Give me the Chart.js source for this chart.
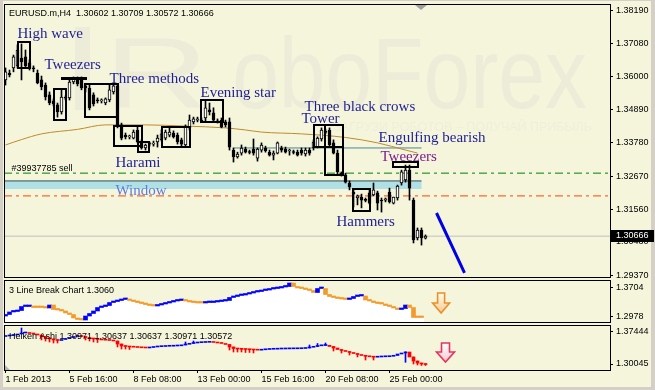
<!DOCTYPE html>
<html>
<head>
<meta charset="utf-8">
<script src="https://cdn.jsdelivr.net/npm/chart.js@4.4.1/dist/chart.umd.min.js"></script>
<style>
html,body{margin:0;padding:0;}
body{width:655px;height:390px;overflow:hidden;background:#d4d0c8;position:relative;}
#bg{position:absolute;left:3px;top:1px;width:648px;height:386px;background:#f5f5dc;}
.cv{position:absolute;left:0;}
</style>
</head>
<body>
<div id="bg"></div>
<canvas id="c1" class="cv" width="655" height="278" style="top:0;width:655px;height:278px"></canvas>
<canvas id="c2" class="cv" width="655" height="46" style="top:278px;width:655px;height:46px"></canvas>
<canvas id="c3" class="cv" width="655" height="66" style="top:324px;width:655px;height:66px"></canvas>
<script>
// ---------------- DATA ----------------
// EURUSD.m H4 candles, bar index 0 = 1 Feb 2013 00:00
const candleOpen = [
1.3588,1.3611,1.3628,1.3635,1.3661,1.3665,1.3645,1.3628,1.3611,1.3588,
1.3571,1.3538,1.3518,1.3505,1.3481,1.3528,1.3528,1.3581,1.3591,1.3588,
1.3568,1.3561,1.3538,1.3521,1.3518,1.3511,1.3521,1.3548,1.3568,1.3438,
1.3404,1.3398,1.3394,1.3421,1.3381,1.3361,1.3374,1.3374,1.3381,1.3388,
1.3394,1.3404,1.3411,1.3404,1.3388,1.3371,1.3428,1.3448,1.3454,1.3454,
1.3461,1.3488,1.3478,1.3451,1.3454,1.3448,1.3448,1.3354,1.3331,1.3344,
1.3357,1.3347,1.3357,1.3327,1.3354,1.3361,1.3347,1.3337,1.3344,1.3361,
1.3357,1.3351,1.3347,1.3347,1.3354,1.3341,1.3354,1.3361,1.3364,1.3391,
1.3414,1.3421,1.3378,1.3344,1.3277,1.3271,1.3244,1.3214,1.3194,1.3197,
1.3187,1.3211,1.3204,1.3211,1.3187,1.3187,1.3214,1.3177,1.3194,1.3244,
1.3254,1.3287,1.3187,1.3061,1.3087,1.30602];
const candleHigh = [
1.3628,1.3621,1.3671,1.3705,1.3708,1.3688,1.3655,1.3635,1.3621,1.3601,
1.3578,1.3548,1.3525,1.3511,1.3555,1.3535,1.3595,1.3598,1.3598,1.3598,
1.3575,1.3571,1.3545,1.3528,1.3525,1.3528,1.3571,1.3575,1.3575,1.3444,
1.3411,1.3404,1.3421,1.3431,1.3388,1.3374,1.3381,1.3384,1.3404,1.3421,
1.3421,1.3428,1.3418,1.3411,1.3394,1.3438,1.3471,1.3464,1.3464,1.3461,
1.3521,1.3511,1.3495,1.3458,1.3461,1.3454,1.3461,1.3361,1.3347,1.3371,
1.3364,1.3354,1.3391,1.3361,1.3378,1.3367,1.3354,1.3351,1.3381,1.3367,
1.3364,1.3357,1.3354,1.3354,1.3361,1.3361,1.3361,1.3388,1.3398,1.3428,
1.3424,1.3428,1.3388,1.3354,1.3281,1.3277,1.3251,1.3224,1.3204,1.3207,
1.3194,1.3221,1.3244,1.3217,1.3194,1.3194,1.3227,1.3197,1.3237,1.3287,
1.3304,1.3304,1.3194,1.3094,1.3094,1.30709];
const candleLow = [
1.3571,1.3598,1.3615,1.3628,1.3588,1.3628,1.3621,1.3615,1.3575,1.3555,
1.3521,1.3505,1.3501,1.3464,1.3474,1.3521,1.3521,1.3575,1.3568,1.3555,
1.3548,1.3488,1.3501,1.3511,1.3511,1.3505,1.3515,1.3541,1.3428,1.3388,
1.3391,1.3391,1.3391,1.3378,1.3357,1.3354,1.3367,1.3367,1.3364,1.3384,
1.3388,1.3398,1.3394,1.3374,1.3367,1.3364,1.3421,1.3441,1.3448,1.3448,
1.3448,1.3471,1.3448,1.3444,1.3428,1.3431,1.3354,1.3314,1.3327,1.3337,
1.3344,1.3341,1.3337,1.3317,1.3347,1.3347,1.3334,1.3321,1.3341,1.3347,
1.3344,1.3337,1.3341,1.3334,1.3337,1.3334,1.3337,1.3354,1.3361,1.3384,
1.3408,1.3367,1.3341,1.3274,1.3267,1.3244,1.3221,1.3164,1.3171,1.3161,
1.3181,1.3174,1.3201,1.3154,1.3147,1.3181,1.3177,1.3174,1.3187,1.3237,
1.3247,1.3187,1.3044,1.3054,1.3037,1.30572];
const candleClose = [
1.3615,1.3605,1.3665,1.3688,1.3648,1.3635,1.3628,1.3625,1.3578,1.3565,
1.3531,1.3511,1.3508,1.3481,1.3531,1.3527,1.3581,1.3591,1.3575,1.3561,
1.3561,1.3495,1.3508,1.3518,1.3521,1.3525,1.3555,1.3568,1.3438,1.3394,
1.3398,1.3401,1.3414,1.3381,1.3361,1.3371,1.3378,1.3375,1.3394,1.3408,
1.3414,1.3414,1.3398,1.3381,1.3374,1.3434,1.3454,1.3458,1.3458,1.3451,
1.3495,1.3481,1.3454,1.3448,1.3431,1.3438,1.3364,1.3331,1.3341,1.3361,
1.3347,1.3346,1.3344,1.3357,1.3371,1.3351,1.3337,1.3344,1.3378,1.3354,
1.3347,1.3354,1.3346,1.3337,1.3344,1.3354,1.3344,1.3381,1.3394,1.3421,
1.3413,1.3371,1.3344,1.3281,1.3271,1.3247,1.3231,1.3207,1.3201,1.3187,
1.3186,1.3177,1.3221,1.3177,1.3184,1.3191,1.3181,1.3197,1.3234,1.3281,
1.3287,1.3227,1.3054,1.3087,1.3061,1.30666];

// moving average (read at selected bars)
const maBar   = [0, 4, 9, 18, 25, 35, 45, 55, 60, 64, 74, 85, 93, 100, 103];
const maValue = [1.3371,1.3389,1.3408,1.3423,1.3438,1.3438,1.3434,1.3428,1.3421,1.3414,1.3408,1.3396,1.3378,1.3354,1.3344];

// horizontal levels
const levelSell   = 1.3277;   // green dash-dot
const levelStop   = 1.3201;   // orange-red dash-dot
const levelBid    = 1.30666;  // current price
const windowTop   = 1.3251;
const windowBottom= 1.3224;
const windowEnd   = 104;
const crowsLine   = {from: 57, to: 104, price: 1.3361};

// forecast line
const forecastBar   = [107.75, 114.75];
const forecastPrice = [1.3144, 1.2944];

// main axis ticks
const mainTicks = [1.29370,1.30480,1.31560,1.32670,1.33780,1.34890,1.36000,1.37080,1.38190];

// 3 Line Break indicator
const lbStart = 1.2995;
const lineBreak = [
1.3033,1.3096,1.3108,1.3133,1.3233,1.3233,1.3233,1.3208,1.3208,1.3208,
1.3196,1.3271,1.3158,1.3146,1.3121,1.3071,1.3033,1.2945,1.2908,1.2895,
1.2995,1.3058,1.3121,1.3208,1.3233,1.3258,1.3333,1.3358,1.3384,1.3409,
1.3416,1.3384,1.3358,1.3333,1.3308,1.3283,1.3258,1.3246,1.3271,1.3296,
1.3321,1.3346,1.3371,1.3384,1.3384,1.3371,1.3346,1.3333,1.3321,1.3321,
1.3333,1.3333,1.3346,1.3358,1.3371,1.3384,1.3459,1.3484,1.3509,1.3521,
1.3546,1.3571,1.3596,1.3609,1.3634,1.3646,1.3671,1.3684,1.3697,1.3722,
1.3734,1.3822,1.3734,1.3697,1.3684,1.3659,1.3634,1.3584,1.3684,1.3684,
1.3534,1.3484,1.3459,1.3434,1.3421,1.3409,1.3434,1.3484,1.3496,1.3496,
1.3396,1.3371,1.3333,1.3308,1.3296,1.3258,1.3233,1.3196,1.3158,1.3183,
1.3271,1.3208,1.2958,1.2958,1.2958];
const lbTicks = [1.2978, 1.3704];

// Heiken Ashi
const haOpenFirst = 1.3640;
const haClose = [
1.3652,1.3664,1.3675,1.3698,1.3721,1.3721,1.3710,1.3698,1.3675,1.3640,
1.3606,1.3583,1.3560,1.3548,1.3571,1.3594,1.3617,1.3640,1.3652,1.3640,
1.3617,1.3594,1.3583,1.3571,1.3560,1.3555,1.3548,1.3536,1.3467,1.3421,
1.3409,1.3398,1.3393,1.3386,1.3379,1.3375,1.3386,1.3398,1.3405,1.3409,
1.3414,1.3416,1.3421,1.3425,1.3444,1.3460,1.3479,1.3490,1.3497,1.3502,
1.3506,1.3509,1.3502,1.3490,1.3479,1.3456,1.3398,1.3363,1.3351,1.3345,
1.3340,1.3335,1.3328,1.3324,1.3333,1.3340,1.3345,1.3347,1.3351,1.3352,
1.3354,1.3355,1.3356,1.3358,1.3363,1.3375,1.3391,1.3409,1.3425,1.3432,
1.3437,1.3409,1.3375,1.3340,1.3317,1.3294,1.3271,1.3247,1.3224,1.3201,
1.3183,1.3171,1.3162,1.3167,1.3171,1.3173,1.3183,1.3201,1.3236,1.3259,
1.3282,1.3167,1.3074,1.3028,1.3005,1.2993];
// [bar, low, high]
const haWicks = [
[4,1.3721,1.3837],[9,1.3560,1.3675],[10,1.3536,1.3640],[11,1.3513,1.3606],[12,1.3490,1.3583],[13,1.3490,1.3560],
[20,1.3560,1.3640],[21,1.3536,1.3617],[22,1.3513,1.3594],[23,1.3502,1.3583],
[28,1.3398,1.3536],[29,1.3351,1.3467],[30,1.3351,1.3421],[31,1.3340,1.3409],
[45,1.3444,1.3513],[47,1.3479,1.3536],
[56,1.3328,1.3456],[57,1.3282,1.3398],[58,1.3282,1.3363],[59,1.3282,1.3351],[60,1.3271,1.3345],[61,1.3271,1.3340],[62,1.3259,1.3335],
[76,1.3375,1.3444],[78,1.3409,1.3479],[80,1.3432,1.3490],
[82,1.3305,1.3409],[84,1.3259,1.3340],[86,1.3213,1.3294],[88,1.3167,1.3247],[90,1.3097,1.3201],[92,1.3097,1.3171],
[100,1.3044,1.3289],[102,1.3005,1.3167],[103,1.2982,1.3074],[104,1.2970,1.3028],[105,1.2970,1.3005]];
const haTicks = [1.30045, 1.37444];

// time axis
const xTickBar = [0, 16, 32, 48, 64, 80, 96];
const xTickLabels = ['1 Feb 2013','5 Feb 16:00','8 Feb 08:00','13 Feb 00:00','15 Feb 16:00','20 Feb 08:00','25 Feb 00:00'];

// pattern annotations (bar range, price range)
const patternBoxes = [
 {from:3, to:6, hi:1.3715, lo:1.3628},
 {from:12, to:15, hi:1.3558, lo:1.3454},
 {from:13.75, to:20.25, hi:1.3598, lo:1.3588, solid:true},
 {from:19.75, to:28, hi:1.3575, lo:1.3464},
 {from:27, to:34, hi:1.3434, lo:1.3367},
 {from:33, to:35.75, hi:1.3381, lo:1.3347},
 {from:39, to:46, hi:1.3431, lo:1.3364},
 {from:49, to:54.25, hi:1.3521, lo:1.3448},
 {from:77, to:84.25, hi:1.3438, lo:1.3364},
 {from:79.75, to:84.25, hi:1.3438, lo:1.3271},
 {from:86.75, to:91, hi:1.3224, lo:1.3150},
 {from:96.75, to:103, hi:1.3314, lo:1.3297}];
const patternLabels = [
 {text:'High wave', bar:3, price:1.3728},
 {text:'Tweezers', bar:9.75, price:1.3623},
 {text:'Three methods', bar:26, price:1.3578},
 {text:'Harami', bar:27.5, price:1.3297},
 {text:'Window', bar:27.5, price:1.3204, kind:'window'},
 {text:'Evening star', bar:48.75, price:1.3531},
 {text:'Three black crows', bar:74.75, price:1.3486},
 {text:'Tower', bar:74, price:1.3444},
 {text:'Engulfing bearish', bar:93.25, price:1.3381},
 {text:'Tweezers', bar:93.75, price:1.3319, kind:'purple'},
 {text:'Hammers', bar:82.75, price:1.3099}];
const orderLabel = {text:'#39937785 sell', bar:1.5, price:1.3284};
const signalArrows = {lineBreak:{bar:108.9, price:1.3571}, heiken:{bar:110, price:1.3490}};

// ---------------- STYLE / DRAW ----------------
const X_MIN = -0.375, X_MAX = 151.125;
const SANS = '"Liberation Sans", Arial, sans-serif';
const SERIF = '"Liberation Serif", "Times New Roman", serif';
const BLUE = '#0000ff', ORANGE = '#f39a2a', RED = '#ff0000';
const labelColors = {normal:'#1e1e96', window:'#5a7ce2', purple:'#7e1e8e'};
const bars = candleOpen.map((_, i) => i);

function yAxis(min, max, ticks, dec) {
  return {
    type:'linear', position:'right', min, max,
    afterBuildTicks: s => { s.ticks = ticks.map(v => ({value: v})); },
    afterFit: s => { s.width = 45; s.paddingTop = 0; s.paddingBottom = 0; },
    ticks: {autoSkip:false, callback: v => Number(v).toFixed(dec), font:{family:SANS, size:9}, color:'#000', padding:3},
    grid: {drawOnChartArea:false, drawTicks:true, tickLength:3, color:'#000'},
    border: {display:true, color:'#000'}
  };
}
function xHidden() {
  return {type:'linear', min:X_MIN, max:X_MAX, display:false, offset:false, grid:{offset:false}};
}
function hLine(x0, x1, y, color, dash, order) {
  return {type:'line', data:[{x:x0, y}, {x:x1, y}], borderColor:color, borderWidth:1,
          borderDash: dash || [], pointRadius:0, order: order};
}
function frame(chart) {
  const {ctx, chartArea:a} = chart;
  ctx.save();
  ctx.strokeStyle = '#000'; ctx.lineWidth = 1;
  ctx.strokeRect(a.left + 0.5, a.top + 0.5, a.right - a.left, a.bottom - a.top);
  ctx.restore();
}
const baseOpts = {responsive:false, animation:false, events:[],
  plugins:{legend:{display:false}, tooltip:{enabled:false}}};

// ---- main chart ----
const deco1 = {
  id:'deco1',
  beforeDatasetsDraw(chart) {
    const {ctx, chartArea:a, scales:{x, y}} = chart;
    ctx.save();
    ctx.beginPath(); ctx.rect(a.left, a.top, a.right - a.left, a.bottom - a.top); ctx.clip();
    // watermark
    ctx.fillStyle = '#ececd9';
    ctx.fillRect(75, 27, 15, 83);
    ctx.font = '100px ' + SANS;
    ctx.save(); ctx.translate(104, 108); ctx.scale(1.45, 1); ctx.fillText('R', 0, 0); ctx.restore();
    ctx.save(); ctx.translate(587, 108); ctx.scale(0.84, 1); ctx.textAlign = 'right'; ctx.fillText('oboForex', 0, 0); ctx.restore();
    ctx.font = '12.5px ' + SANS; ctx.textAlign = 'right'; ctx.fillStyle = '#eeeedb';
    ctx.fillText('ЗАГРУЗИ РОБОТОВ – ПОЛУЧАЙ ПРИБЫЛЬ', 592, 131);
    // window band
    const x1 = x.getPixelForValue(windowEnd);
    const yt = y.getPixelForValue(windowTop), yb = y.getPixelForValue(windowBottom);
    ctx.fillStyle = '#b0e0e6';
    ctx.fillRect(a.left, yt, x1 - a.left, yb - yt);
    ctx.restore();
  },
  afterDatasetsDraw(chart) {
    const {ctx, chartArea:a, scales:{x, y}} = chart;
    ctx.save();
    ctx.beginPath(); ctx.rect(a.left, a.top, a.right - a.left, a.bottom - a.top); ctx.clip();
    ctx.strokeStyle = '#000'; ctx.fillStyle = '#000'; ctx.lineWidth = 2;
    patternBoxes.forEach(b => {
      const x0 = Math.round(x.getPixelForValue(b.from)), x1 = Math.round(x.getPixelForValue(b.to));
      const y0 = Math.round(y.getPixelForValue(b.hi)), y1 = Math.round(y.getPixelForValue(b.lo));
      if (b.solid) ctx.fillRect(x0, y0, x1 - x0, y1 - y0);
      else ctx.strokeRect(x0, y0, x1 - x0, y1 - y0);
    });
    ctx.textAlign = 'left'; ctx.textBaseline = 'alphabetic';
    ctx.font = '15px ' + SERIF;
    patternLabels.forEach(l => {
      ctx.fillStyle = labelColors[l.kind || 'normal'];
      ctx.fillText(l.text, x.getPixelForValue(l.bar), y.getPixelForValue(l.price));
    });
    ctx.font = '9px ' + SANS; ctx.fillStyle = '#000';
    ctx.fillText(orderLabel.text, x.getPixelForValue(orderLabel.bar), y.getPixelForValue(orderLabel.price));
    ctx.restore();
    ctx.save();
    ctx.font = '9px ' + SANS; ctx.fillStyle = '#000'; ctx.textAlign = 'left';
    const n = candleClose.length - 1;
    ctx.fillText('EURUSD.m,H4  ' + [candleOpen[n], candleHigh[n], candleLow[n], candleClose[n]].map(v => v.toFixed(5)).join(' '), 9, 16);
    ctx.restore();
  },
  afterDraw(chart) {
    frame(chart);
    const {ctx, scales:{y}} = chart;
    ctx.save();
    const n = candleClose.length - 1;
    const yy = Math.round(y.getPixelForValue(candleClose[n]));
    ctx.fillStyle = '#000'; ctx.fillRect(611, yy - 6, 43, 12);
    ctx.fillStyle = '#fff'; ctx.font = '9px ' + SANS; ctx.textBaseline = 'middle'; ctx.textAlign = 'left';
    ctx.fillText(candleClose[n].toFixed(5), 616, yy);
    ctx.fillStyle = '#a0a0a0';
    ctx.beginPath(); ctx.moveTo(415, 5); ctx.lineTo(427, 5); ctx.lineTo(421, 10); ctx.closePath(); ctx.fill();
    ctx.restore();
  }
};

new Chart(document.getElementById('c1'), {
  type:'bar',
  data:{datasets:[
    {type:'bar', data: bars.map(i => ({x:i, y:[candleOpen[i], candleClose[i]]})),
     backgroundColor: bars.map(i => candleClose[i] >= candleOpen[i] ? '#ffffff' : '#000000'),
     borderColor:'#000', borderWidth:1, borderSkipped:false, barThickness:3, minBarLength:1, grouped:false, order:0},
    {type:'bar', data: bars.map(i => ({x:i, y:[candleLow[i], candleHigh[i]]})),
     backgroundColor:'#000', barThickness:1, grouped:false, order:1},
    {type:'line', data: maBar.map((b, k) => ({x:b, y:maValue[k]})), borderColor:'#c08a28', borderWidth:1,
     pointRadius:0, cubicInterpolationMode:'monotone', order:2},
    {type:'line', data: forecastBar.map((b, k) => ({x:b, y:forecastPrice[k]})), borderColor:'#0000e6', borderWidth:3,
     pointRadius:0, order:0},
    hLine(X_MIN, X_MAX, levelBid, '#c0c0c0', null, 6),
    hLine(X_MIN, X_MAX, levelSell, '#008000', [8,4,3,4], 5),
    hLine(X_MIN, X_MAX, levelStop, '#ff4500', [8,4,3,4], 5),
    hLine(X_MIN, windowEnd, windowTop, '#2f4f4f', null, 5),
    hLine(crowsLine.from, crowsLine.to, crowsLine.price, '#4a8893', null, 5)
  ]},
  options: Object.assign({}, baseOpts, {
    layout:{padding:{left:4, top:4, right:0, bottom:1}},
    scales:{x: xHidden(), y: yAxis(1.29304, 1.38414, mainTicks, 5)}
  }),
  plugins:[deco1]
});

// ---- arrow helper ----
function drawArrow(ctx, cx, top, w, h, shaftW, headH, stroke, c0, c1) {
  const l = cx - w/2, r = cx + w/2, sl = cx - shaftW/2, sr = cx + shaftW/2, hy = top + h - headH, bot = top + h;
  ctx.beginPath();
  ctx.moveTo(sl, top); ctx.lineTo(sr, top); ctx.lineTo(sr, hy); ctx.lineTo(r, hy);
  ctx.lineTo(cx, bot); ctx.lineTo(l, hy); ctx.lineTo(sl, hy); ctx.closePath();
  const g = ctx.createLinearGradient(0, top, 0, bot); g.addColorStop(0, c0); g.addColorStop(1, c1);
  ctx.fillStyle = g; ctx.fill();
  ctx.lineWidth = 1.6; ctx.strokeStyle = stroke; ctx.stroke();
}

// ---- 3 Line Break panel ----
let dir = 1;
const lbColors = lineBreak.map((v, i) => {
  const prev = i ? lineBreak[i-1] : lbStart;
  if (v > prev) dir = 1; else if (v < prev) dir = -1;
  return dir > 0 ? BLUE : ORANGE;
});
const LB_MIN = 1.2845, LB_MAX = 1.3897;
const deco2 = {
  id:'deco2',
  afterDatasetsDraw(chart) {
    const {ctx} = chart;
    ctx.save(); ctx.font = '9px ' + SANS; ctx.fillStyle = '#000';
    ctx.fillText('3 Line Break Chart 1.3060', 9, 15);
    ctx.restore();
  },
  afterDraw(chart) {
    frame(chart);
    const {ctx, scales:{x, y}} = chart;
    ctx.save();
    drawArrow(ctx, x.getPixelForValue(signalArrows.lineBreak.bar), y.getPixelForValue(signalArrows.lineBreak.price),
              17, 20, 7, 10, '#e8902a', '#fffdf0', '#f6c98e');
    ctx.restore();
  }
};
new Chart(document.getElementById('c2'), {
  type:'bar',
  data:{datasets:[
    {type:'bar', data: lineBreak.map((v, i) => ({x:i, y:[i ? lineBreak[i-1] : lbStart, v]})),
     backgroundColor: lbColors, barThickness:4, minBarLength:1.5, grouped:false, order:0},
    {type:'bar', data: lineBreak.map((v, i) => ({x:i, y:[LB_MIN, v]})),
     backgroundColor:'#ffffff', barThickness:4, grouped:false, order:1}
  ]},
  options: Object.assign({}, baseOpts, {
    layout:{padding:{left:4, top:2, right:0, bottom:2}},
    scales:{x: xHidden(), y: yAxis(LB_MIN, LB_MAX, lbTicks, 4)}
  }),
  plugins:[deco2]
});

// ---- Heiken Ashi panel ----
const haBars = haClose.map((_, i) => i);
const haOpen = haClose.map((v, i) => i ? haClose[i-1] : haOpenFirst);
const deco3 = {
  id:'deco3',
  afterDatasetsDraw(chart) {
    const {ctx} = chart;
    ctx.save(); ctx.font = '9px ' + SANS; ctx.fillStyle = '#000';
    ctx.fillText('Heiken Ashi 1.30971 1.30637 1.30637 1.30971 1.30572', 9, 15);
    ctx.fillStyle = '#b4b4b4';
    ctx.beginPath(); ctx.moveTo(5, 41); ctx.lineTo(5, 46); ctx.lineTo(10, 46); ctx.closePath(); ctx.fill();
    ctx.restore();
  },
  afterDraw(chart) {
    frame(chart);
    const {ctx, scales:{x, y}} = chart;
    ctx.save();
    drawArrow(ctx, x.getPixelForValue(signalArrows.heiken.bar), y.getPixelForValue(signalArrows.heiken.price),
              18, 19, 8, 10, '#e2365e', '#ffffff', '#fbc6d2');
    ctx.restore();
  }
};
new Chart(document.getElementById('c3'), {
  type:'bar',
  data:{datasets:[
    {type:'bar', data: haBars.map(i => ({x:i, y:[haOpen[i], haClose[i]]})),
     backgroundColor: haBars.map(i => haClose[i] >= haOpen[i] ? BLUE : RED),
     barThickness:3, minBarLength:1, grouped:false, order:0},
    {type:'bar', data: haWicks.map(w => ({x:w[0], y:[w[1], w[2]]})),
     backgroundColor: haWicks.map(w => haClose[w[0]] >= haOpen[w[0]] ? BLUE : RED),
     barThickness:1, grouped:false, order:1}
  ]},
  options: Object.assign({}, baseOpts, {
    layout:{padding:{left:4, top:1, right:0, bottom:6}},
    scales:{
      x:{type:'linear', min:X_MIN, max:X_MAX, position:'bottom', offset:false,
         afterBuildTicks: s => { s.ticks = xTickBar.map(v => ({value:v})); },
         afterFit: s => { s.height = 14; s.paddingLeft = 0; s.paddingRight = 0; },
         ticks:{autoSkip:false, maxRotation:0, minRotation:0, align:'start', padding:1,
                font:{family:SANS, size:9}, color:'#000',
                callback: v => { const k = xTickBar.indexOf(v); return k >= 0 ? xTickLabels[k] : ''; }},
         grid:{drawOnChartArea:false, offset:false, tickLength:3, color:'#000'},
         border:{display:true, color:'#000'}},
      y: yAxis(1.2866, 1.3906, haTicks, 5)
    }
  }),
  plugins:[deco3]
});
</script>
</body>
</html>
